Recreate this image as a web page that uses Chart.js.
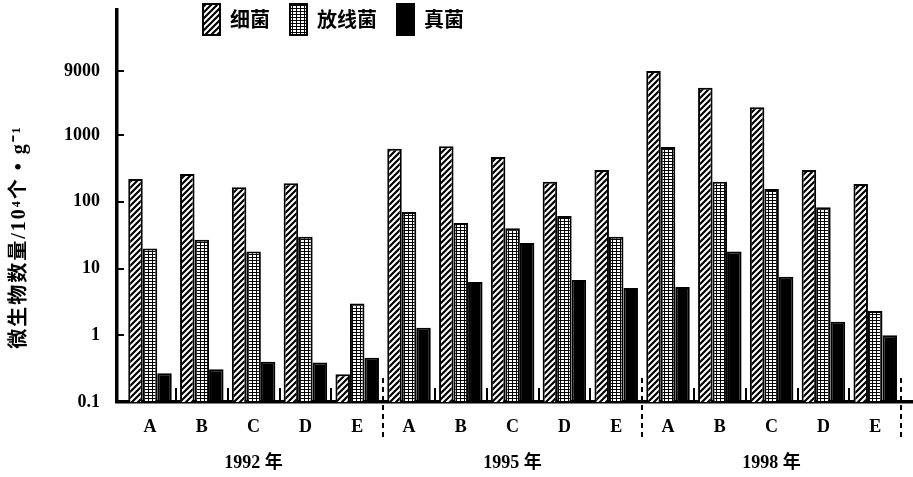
<!DOCTYPE html>
<html>
<head>
<meta charset="utf-8">
<script src="https://cdn.jsdelivr.net/npm/chart.js@4/dist/chart.umd.min.js"></script>
<style>
  html, body { margin: 0; padding: 0; background: #fff; }
  #wrap { width: 913px; height: 477px; }
</style>
</head>
<body>
<div id="wrap"><canvas id="c" width="913" height="477"></canvas></div>
<script>
// Sites and sampling years
const sites = ['A', 'B', 'C', 'D', 'E'];
const years = ['1992 年', '1995 年', '1998 年'];

// Counts per site (10^4 per gram), 1992 / 1995 / 1998
const bacteria = [220, 260, 165, 190, 0.26, 620, 680, 470, 200, 300, 9100, 5100, 2600, 300, 185];
const actinomycetes = [20, 27, 18, 30, 3.0, 70, 48, 40, 61, 30, 660, 200, 155, 83, 2.3];
const fungi = [0.27, 0.31, 0.40, 0.39, 0.46, 1.3, 6.3, 24, 6.7, 5.1, 5.3, 18, 7.5, 1.6, 1.0];

// Y axis ticks
const yTickValues = [0.1, 1, 10, 100, 1000, 9000];
const yTickLabels = ['0.1', '1', '10', '100', '1000', '9000'];

const seriesNames = ['细菌', '放线菌', '真菌'];
const yTitle = '微生物数量/10⁴个 • g⁻¹';

// x positions: one slot per site, grouped by year
const slotCount = sites.length * years.length;
const slotLabels = [];
for (let y = 0; y < years.length; y++) {
  for (let s = 0; s < sites.length; s++) {
    slotLabels.push(s === 2 ? [sites[s], '', years[y]] : sites[s]);
  }
}
const toPoints = arr => arr.map((v, i) => ({ x: i, y: v }));

function hatchPattern() {
  const c = document.createElement('canvas');
  c.width = 6; c.height = 6;
  const g = c.getContext('2d');
  g.fillStyle = '#fff'; g.fillRect(0, 0, 6, 6);
  g.strokeStyle = '#000'; g.lineWidth = 2.2;
  g.beginPath();
  g.moveTo(-1, 7); g.lineTo(7, -1);
  g.moveTo(-1, 1); g.lineTo(1, -1);
  g.moveTo(5, 7); g.lineTo(7, 5);
  g.stroke();
  return g.createPattern(c, 'repeat');
}
function dotPattern() {
  const c = document.createElement('canvas');
  c.width = 4; c.height = 3;
  const g = c.getContext('2d');
  g.fillStyle = '#fff'; g.fillRect(0, 0, 4, 3);
  g.fillStyle = '#000';
  g.fillRect(0, 0, 1, 3);
  g.fillRect(0, 2, 4, 1);
  return g.createPattern(c, 'repeat');
}

const serif = "'Liberation Serif', 'Noto Sans CJK SC', serif";
const cjk = "'Noto Sans CJK SC', sans-serif";

// Extra strokes: inward axis ticks, site dividers, year separators, y title
const decorations = {
  id: 'decorations',
  afterLayout(chart) {
    const lg = chart.legend;
    if (!lg) return;
    const pad = lg.options.labels.padding;
    lg.left = 203 - pad; lg.right = lg.left + 320; lg.width = 320;
    lg.top = 4 - pad; lg.bottom = lg.top + 60; lg.height = 60;
  },
  afterDraw(chart) {
    const ctx = chart.ctx;
    const xs = chart.scales.x, ys = chart.scales.y;
    const area = chart.chartArea;
    ctx.save();
    ctx.strokeStyle = '#000';
    ctx.lineWidth = 2;
    // y ticks pointing into the plot
    yTickValues.forEach(v => {
      const py = Math.round(ys.getPixelForValue(v));
      ctx.beginPath(); ctx.moveTo(area.left, py); ctx.lineTo(area.left + 7, py); ctx.stroke();
    });
    // short dividers between sites
    for (let i = 0; i < slotCount - 1; i++) {
      if ((i + 1) % sites.length === 0) continue;
      const px = Math.round(xs.getPixelForValue(i + 0.5));
      ctx.beginPath(); ctx.moveTo(px, area.bottom - 14); ctx.lineTo(px, area.bottom); ctx.stroke();
    }
    // dashed separators between years
    ctx.setLineDash([5, 4]);
    for (let y = 1; y <= years.length; y++) {
      const px = Math.round(xs.getPixelForValue(y * sites.length - 0.5));
      ctx.beginPath(); ctx.moveTo(px, area.bottom - 24); ctx.lineTo(px, area.bottom + 36); ctx.stroke();
    }
    ctx.setLineDash([]);
    // rotated y title
    ctx.translate(20, 237);
    ctx.rotate(-Math.PI / 2);
    ctx.fillStyle = '#000';
    ctx.font = 'bold 20px ' + serif;
    ctx.letterSpacing = '2px';
    ctx.textAlign = 'center';
    ctx.textBaseline = 'middle';
    ctx.fillText(yTitle, 0, 0);
    ctx.restore();
  }
};

new Chart(document.getElementById('c'), {
  type: 'bar',
  data: {
    datasets: [
      { label: seriesNames[0], data: toPoints(bacteria), backgroundColor: hatchPattern(), borderColor: '#000', borderWidth: 2 },
      { label: seriesNames[1], data: toPoints(actinomycetes), backgroundColor: dotPattern(), borderColor: '#000', borderWidth: 2 },
      { label: seriesNames[2], data: toPoints(fungi), backgroundColor: '#000', borderColor: '#000', borderWidth: 2 }
    ]
  },
  options: {
    responsive: false,
    animation: false,
    devicePixelRatio: 1,
    layout: { padding: { top: 9, left: 0, right: 1, bottom: 0 } },
    categoryPercentage: 0.84,
    barPercentage: 1,
    plugins: {
      tooltip: { enabled: false },
      legend: {
        position: 'top',
        align: 'start',
        maxHeight: 1,
        labels: {
          boxWidth: 17,
          boxHeight: 31,
          padding: 20,
          color: '#000',
          font: { family: cjk, weight: 'bold', size: 20 }
        }
      }
    },
    scales: {
      x: {
        type: 'linear',
        offset: false,
        min: -0.637,
        max: 14.71,
        grid: { display: false, drawTicks: false, offset: false },
        border: { display: true, color: '#000', width: 3.5 },
        afterBuildTicks: s => { s.ticks = slotLabels.map((_, i) => ({ value: i })); },
        afterFit: s => { s.height = 75; s.paddingLeft = 0; s.paddingRight = 0; },
        ticks: {
          autoSkip: false,
          maxRotation: 0,
          padding: 16,
          color: '#000',
          font: { family: serif, weight: 'bold', size: 18, lineHeight: 1 },
          callback: (v, i) => slotLabels[i]
        }
      },
      y: {
        type: 'logarithmic',
        min: 0.1,
        max: 74600,
        grid: { display: false, drawTicks: false },
        border: { display: true, color: '#000', width: 3.5 },
        afterBuildTicks: s => { s.ticks = yTickValues.map(v => ({ value: v })); },
        afterFit: s => { s.width = 117; s.paddingTop = 0; s.paddingBottom = 0; },
        ticks: {
          padding: 17,
          color: '#000',
          font: { family: serif, weight: 'bold', size: 18 },
          callback: (v, i) => yTickLabels[i]
        }
      }
    }
  },
  plugins: [decorations]
});
</script>
</body>
</html>
